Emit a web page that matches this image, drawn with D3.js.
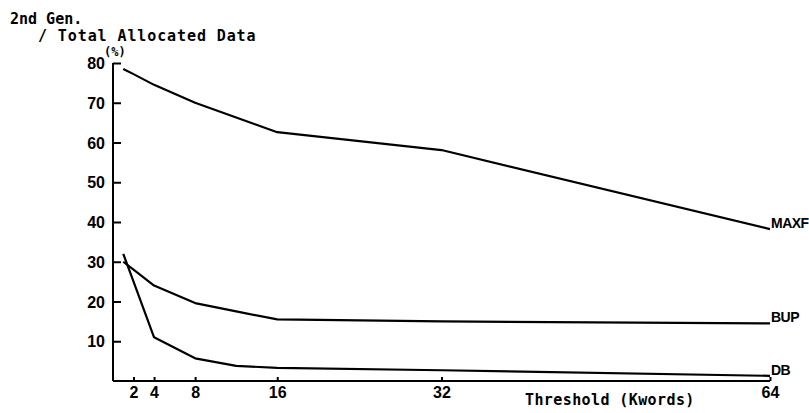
<!DOCTYPE html>
<html>
<head>
<meta charset="utf-8">
<script src="https://cdn.jsdelivr.net/npm/d3@7"></script>
<style>
  body { margin: 0; background: #fff; }
  text { fill: #000; }
</style>
</head>
<body>
<svg id="chart"></svg>
<script>
const width = 809, height = 413

const thresholds = [1, 2, 4, 8, 12, 16, 32, 64]
const maxfValues = [78.5, 77.2, 74.5, 70.0, 66.3, 62.6, 58.1, 38.2]
const bupValues = [30.0, 28.0, 24.0, 19.6, 17.5, 15.5, 15.0, 14.5]
const dbValues = [32.0, 25.0, 11.0, 5.7, 3.8, 3.3, 2.7, 1.3]
const seriesNames = ["MAXF", "BUP", "DB"]
const xTicks = [2, 4, 8, 16, 32, 64]
const yTicks = [10, 20, 30, 40, 50, 60, 70, 80]

const series = [maxfValues, bupValues, dbValues].map((vals, i) => ({
    name: seriesNames[i],
    points: thresholds.map((t, j) => ({x: t, y: vals[j]}))
}))

const svg = d3.select("svg#chart")
    .attr("viewBox", [0, 0, width, height])
    .attr("width", width)
    .attr("height", height)
    .style("background", "#ffffff")

const x = d3.scaleLinear().domain([0, 64]).range([113, 770])
const y = d3.scaleLinear().domain([0, 80]).range([381, 63])

const tickFont = "'Liberation Sans', Arial, sans-serif"
const monoFont = "'DejaVu Sans Mono', monospace"

// y axis: ticks point inward
const yAxis = svg.append("g")
    .attr("transform", `translate(${x(0)},0)`)
    .call(d3.axisRight(y).tickValues(yTicks).tickSize(8).tickFormat(""))
yAxis.select(".domain").attr("d", `M0,${y(0)}V${y(80)}`)
yAxis.selectAll("path, line").attr("stroke", "#000").attr("stroke-width", 2)

yAxis.selectAll(".tick").append("text")
    .attr("x", -8)
    .attr("dy", "0.35em")
    .attr("text-anchor", "end")
    .style("font", `bold 16px ${tickFont}`)
    .style("fill", "#000")
    .text(d => d)

// x axis: small ticks pointing up
const xAxis = svg.append("g")
    .attr("transform", `translate(0,${y(0)})`)
    .call(d3.axisTop(x).tickValues(xTicks).tickSize(4).tickFormat(""))
xAxis.select(".domain").attr("d", `M${x(0)},0H${x(64)}`)
xAxis.selectAll("path, line").attr("stroke", "#000").attr("stroke-width", 2)

xAxis.selectAll(".tick").append("text")
    .attr("y", 17)
    .attr("text-anchor", "middle")
    .style("font", `bold 16px ${tickFont}`)
    .style("fill", "#000")
    .text(d => d)

const line = d3.line()
    .x(d => x(d.x))
    .y(d => y(d.y))

svg.selectAll("path.series")
    .data(series)
    .enter()
    .append("path").attr("class", "series")
    .attr("d", d => line(d.points))
    .attr("fill", "none")
    .attr("stroke", "#000")
    .attr("stroke-width", 2.2)
    .attr("stroke-linejoin", "round")

svg.selectAll("text.label")
    .data(series)
    .enter()
    .append("text").attr("class", "label")
    .attr("x", d => x(64) + 1)
    .attr("y", d => y(d.points[d.points.length - 1].y) - 1)
    .style("font", `bold 14px ${tickFont}`)
    .style("letter-spacing", "-0.5px")
    .text(d => d.name)

// titles
svg.append("text")
    .attr("x", 10).attr("y", 24)
    .style("font", `bold 15px ${monoFont}`)
    .style("letter-spacing", "0px")
    .text("2nd Gen.")

svg.append("text")
    .attr("x", 38).attr("y", 41)
    .style("font", `bold 15px ${monoFont}`)
    .style("letter-spacing", "0.9px")
    .text("/ Total Allocated Data")

svg.append("text")
    .attr("x", 104).attr("y", 56)
    .style("font", `bold 12px ${monoFont}`)
    .text("(%)")

svg.append("text")
    .attr("x", 525).attr("y", 405)
    .style("font", `bold 15px ${monoFont}`)
    .style("letter-spacing", "0.4px")
    .text("Threshold (Kwords)")
</script>
</body>
</html>
